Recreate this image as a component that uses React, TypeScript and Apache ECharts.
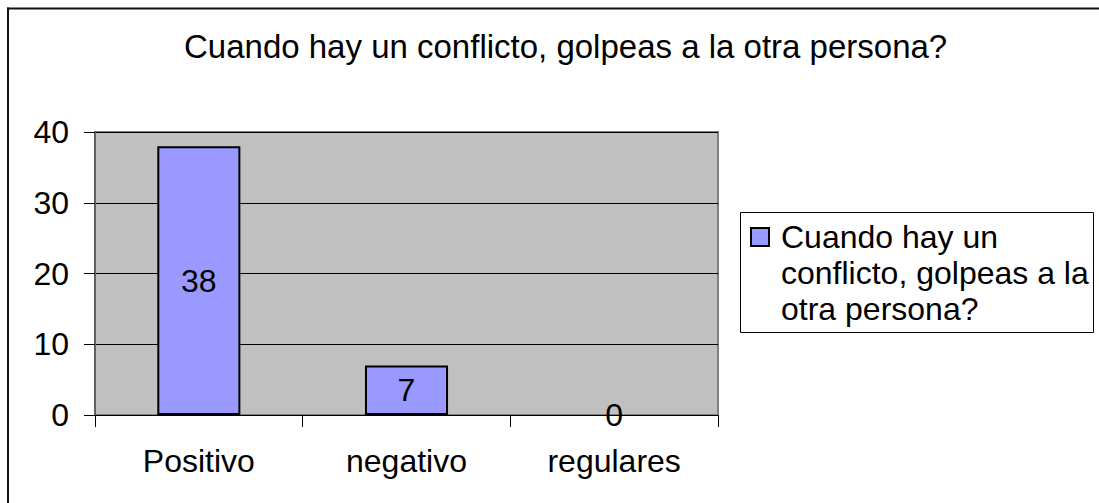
import React, { useEffect, useRef } from "react";
import * as echarts from "echarts";

const TITLE = "Cuando hay un conflicto, golpeas a la otra persona?";
const LEGEND_LINES = ["Cuando hay un", "conflicto, golpeas a la", "otra persona?"];
const categories = ["Positivo", "negativo", "regulares"];
const values = [38, 7, 0];
const yMin = 0;
const yMax = 40;
const yInterval = 10;

const FONT = "'Liberation Sans', Arial, sans-serif";

export default function App() {
  const ref = useRef<HTMLDivElement>(null);
  useEffect(() => {
    if (!ref.current) return;
    const chart = echarts.init(ref.current, undefined, { renderer: "svg" });
    chart.setOption({
      animation: false,
      backgroundColor: "#ffffff",
      textStyle: { fontFamily: FONT },
      title: {
        text: TITLE,
        left: 184,
        top: 30,
        padding: 0,
        textStyle: { fontSize: 33, fontWeight: "normal", color: "#000", fontFamily: FONT, lineHeight: 33 },
      },
      graphic: [
        {
          type: "line",
          shape: { x1: 8, y1: 7.5, x2: 8, y2: 503 },
          style: { stroke: "#111", lineWidth: 2 },
          silent: true,
        },
        {
          type: "line",
          shape: { x1: 7, y1: 8.5, x2: 1099, y2: 8.5 },
          style: { stroke: "#111", lineWidth: 2 },
          silent: true,
        },
        {
          type: "rect",
          shape: { x: 740.5, y: 212.5, width: 353, height: 120 },
          style: { fill: "#fff", stroke: "#000", lineWidth: 1 },
          silent: true,
        },
      ],
      legend: {
        left: 750,
        top: 147,
        padding: 0,
        itemWidth: 18,
        itemHeight: 18,
        icon: "rect",
        formatter: () => "\n\n" + LEGEND_LINES.join("\n"),
        textStyle: {
          fontSize: 32,
          lineHeight: 36,
          color: "#000",
          fontFamily: FONT,
          padding: [0, 0, 0, 7],
        },
        itemStyle: { borderColor: "#000", borderWidth: 2 },
      },
      grid: {
        left: 95,
        top: 132,
        right: 381,
        bottom: 88,
        show: true,
        backgroundColor: "#c0c0c0",
        borderColor: "#808080",
        borderWidth: 2,
      },
      xAxis: {
        type: "category",
        data: categories,
        boundaryGap: true,
        axisLine: { show: true, lineStyle: { color: "#000", width: 1 } },
        axisTick: { show: true, interval: 0, length: 12, lineStyle: { color: "#000" } },
        axisLabel: { fontSize: 32, color: "#000", margin: 30, fontFamily: FONT, interval: 0 },
        splitLine: { show: false },
      },
      yAxis: {
        type: "value",
        min: yMin,
        max: yMax,
        interval: yInterval,
        axisLine: { show: true, lineStyle: { color: "#606060", width: 2 } },
        axisTick: { show: true, length: 11, lineStyle: { color: "#000" } },
        axisLabel: { fontSize: 32, color: "#000", margin: 26, fontFamily: FONT },
        splitLine: { show: true, lineStyle: { color: "#000", width: 1 } },
      },
      series: [
        {
          name: TITLE,
          type: "bar",
          data: values.map((v) => (v === 0 ? { value: v, itemStyle: { borderWidth: 0 } } : v)),
          barWidth: "40%",
          itemStyle: { color: "#9999ff", borderColor: "#000", borderWidth: 2 },
          label: {
            show: true,
            position: "inside",
            fontSize: 32,
            color: "#000",
            fontFamily: FONT,
          },
        },
      ],
    });
    return () => chart.dispose();
  }, []);
  return (
    <div
      ref={ref}
      style={{ position: "absolute", left: 0, top: 0, width: 1099, height: 503 }}
    />
  );
}
